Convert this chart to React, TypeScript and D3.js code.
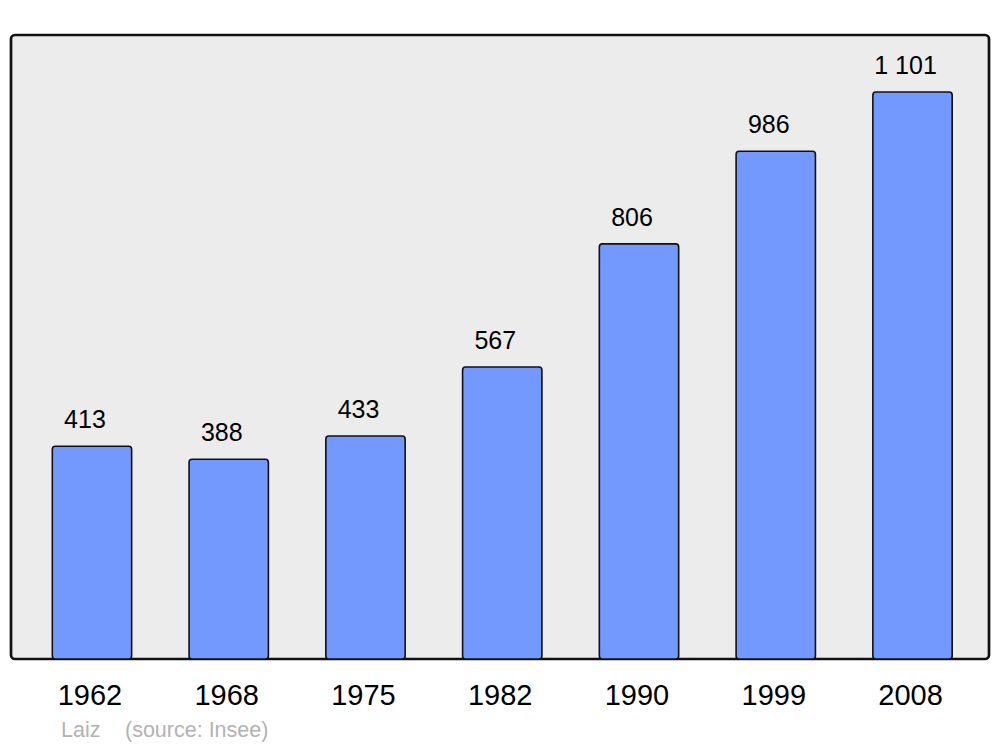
import React from "react";
import * as d3 from "d3";

const years = ["1962", "1968", "1975", "1982", "1990", "1999", "2008"];
const population = [413, 388, 433, 567, 806, 986, 1101];
const valueLabels = ["413", "388", "433", "567", "806", "986", "1 101"];
const author = "Laiz";
const sourceText = "(source: Insee)";

export default function App() {
  const W = 1000, H = 747;
  const panel = { x: 11, y: 35, w: 978, h: 624 };
  const bottom = panel.y + panel.h;
  const x = d3.scaleBand<string>().domain(years).range([23.6, 980.9]).paddingInner(0.42).paddingOuter(0.21);
  const y = d3.scaleLinear().domain([0, 1101]).range([bottom, 92]);
  const font = "'Liberation Sans', Arial, sans-serif";
  return (
    <svg width={W} height={H} style={{ position: "absolute", left: 0, top: 0, background: "#fff" }}>
      <rect x={panel.x} y={panel.y} width={panel.w} height={panel.h} rx={4} fill="#ececec" stroke="#111" strokeWidth={2.7} />
      {population.map((v, i) => {
        const bx = x(years[i])!;
        const bw = x.bandwidth();
        return (
          <g key={years[i]}>
            <rect x={bx} y={y(v)} width={bw} height={bottom - y(v)} rx={3} fill="#7399ff" stroke="#111" strokeWidth={1.6} />
            <text x={bx + bw / 2 - 7} y={y(v) - 18} textAnchor="middle" fontFamily={font} fontSize={25} fill="#000">{valueLabels[i]}</text>
            <text x={bx + bw / 2 - 2} y={705} textAnchor="middle" fontFamily={font} fontSize={29} fill="#000">{years[i]}</text>
          </g>
        );
      })}
      <text x={61} y={737} fontFamily={font} fontSize={21.5} fill="#b3b3b3">{author}</text>
      <text x={125} y={737} fontFamily={font} fontSize={21.5} fill="#b3b3b3">{sourceText}</text>
    </svg>
  );
}
